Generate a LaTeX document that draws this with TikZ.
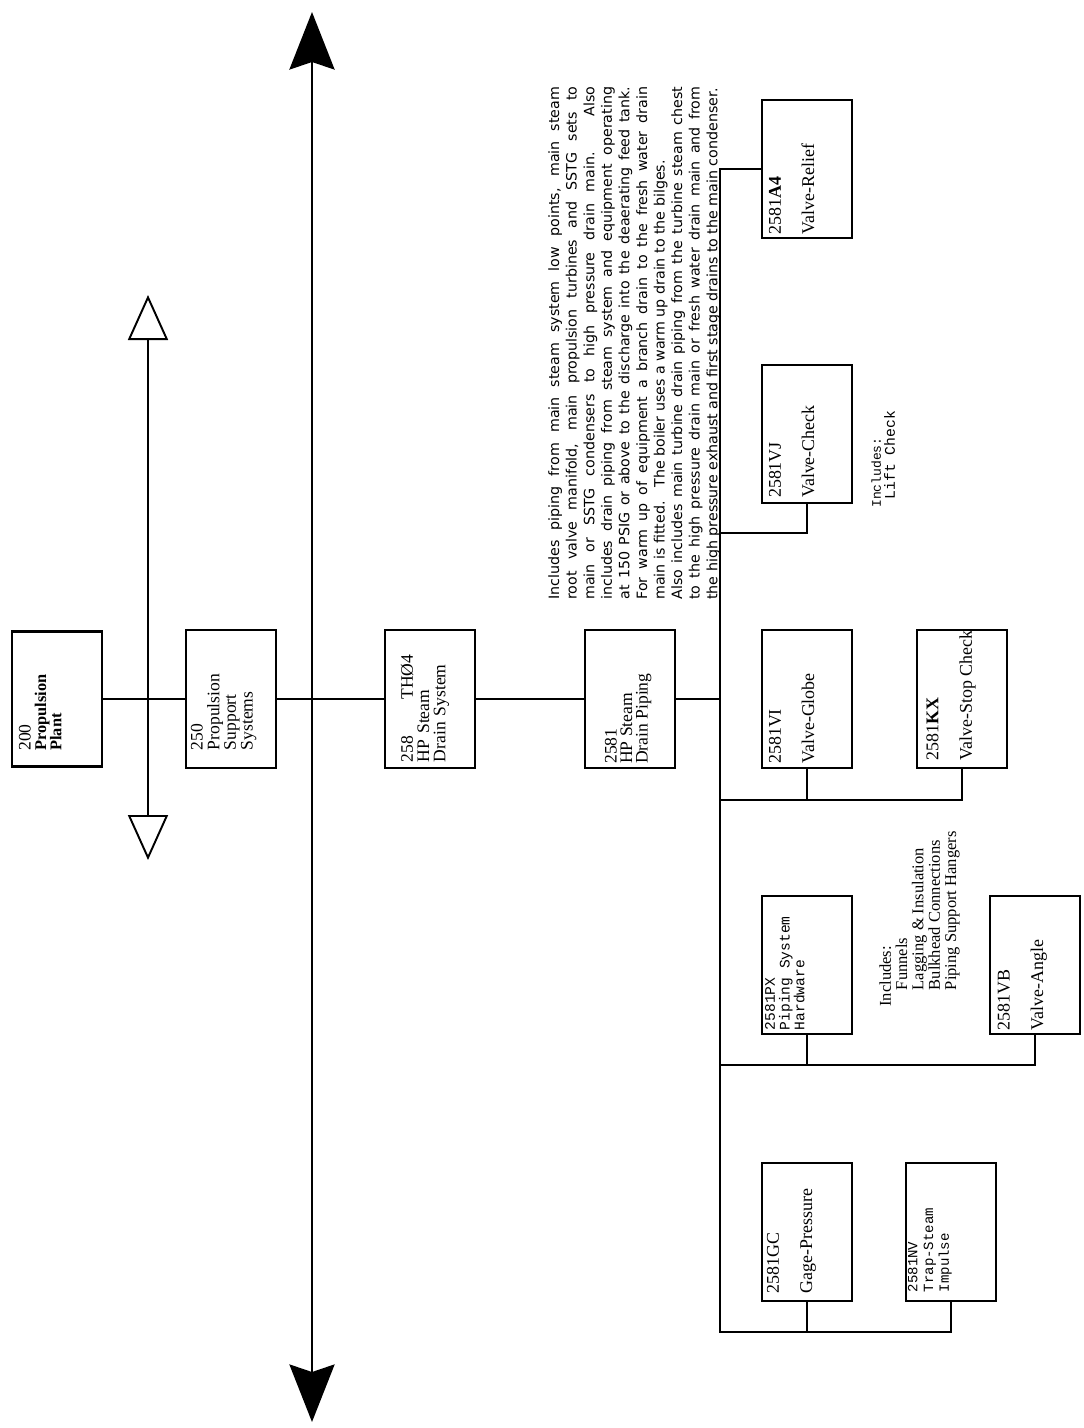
\documentclass[tikz,border=0pt]{standalone}
\usepackage{fontspec}
\setmainfont{Liberation Serif}
\setsansfont{DejaVu Sans}
\setmonofont{Liberation Mono}
\usetikzlibrary{arrows.meta}

\begin{document}
\begin{tikzpicture}[
  x=0.02cm, y=-0.02cm,
  box/.style={draw, line width=1.6pt, minimum width=1.8cm,
              minimum height=2.76cm, inner sep=0pt},
  conn/.style={line width=1.2pt},
  vtext/.style={rotate=90, anchor=north west, align=left, inner sep=0pt},
  bigtext/.style={vtext, font=\fontsize{10}{9.3}\selectfont},
  valvetext/.style={vtext, font=\fontsize{10.2}{19}\selectfont},
  monotext/.style={vtext, font=\ttfamily\fontsize{8.3}{8.4}\selectfont},
  axis/.style={line width=1.7pt, <->,
               >={Stealth[length=1.15cm, width=0.9cm, inset=0.15cm]}},
  rangeaxis/.style={line width=1.1pt, <->,
               >={Triangle[open, length=0.9cm, width=0.8cm]}},
]
\useasboundingbox (0,0) rectangle (1084,1428);

% ── axes ──────────────────────────────────────────────────────────────────────
\coordinate (axtop) at (312,12);
\coordinate (axbot) at (312,1422);
\draw[axis] (axtop) -- (axbot);

\coordinate (rtop) at (148,295);
\coordinate (rbot) at (148,860);
\draw[rangeaxis] (rtop) -- (rbot);

% ── main row ──────────────────────────────────────────────────────────────────
\node[box, minimum height=2.7cm] (plant) at (57,699) {};
\node[box] (support) at (231,699) {};
\node[box] (drainsys) at (430,699) {};
\node[box] (drainpipe) at (630,699) {};

\node[vtext, font=\fontsize{10}{8.8}\selectfont] (plantT)
  at ([xshift=4.5pt, yshift=9.6pt]plant.south west)
  {200\\{\bfseries\fontsize{9.3}{8.8}\selectfont Propulsion}\\
   {\bfseries\fontsize{9.3}{8.8}\selectfont Plant}};
\node[vtext, font=\fontsize{10}{9.5}\selectfont] (supportT)
  at ([xshift=3.4pt, yshift=10.8pt]support.south west)
  {250\\Propulsion\\Support\\Systems};
\node[bigtext, text width=2.15cm] (drainsysT)
  at ([xshift=9.6pt, yshift=4pt]drainsys.south west)
  {258\hfill TH\O{}4\\HP Steam\\Drain System};
\node[bigtext, font=\fontsize{10}{8.8}\selectfont] (drainpipeT)
  at ([xshift=12pt, yshift=3pt]drainpipe.south west)
  {2581\\HP Steam\\Drain Piping};

\draw[conn] (plant) -- (support) -- (drainsys) -- (drainpipe);

% ── description ───────────────────────────────────────────────────────────────
\node[vtext, align=justify, text width=10.26cm,
      font=\sffamily\fontsize{8.1}{10}\selectfont] (notes) at (548,600) {
  \noindent Includes piping from main steam system low points, main steam\linebreak
  root valve manifold, main propulsion turbines and SSTG sets to\linebreak
  main or SSTG condensers to high pressure drain main.\ \ \ Also\linebreak
  includes drain piping from steam system and equipment operating\linebreak
  at 150 PSIG or above to the discharge into the deaerating feed tank.\linebreak
  For warm up of equipment a branch drain to the fresh water drain\linebreak
  main is fitted.\ \ \ The boiler uses a warm up drain to the bilges.\par
  \noindent Also includes main turbine drain piping from the turbine steam chest\linebreak
  to the high pressure drain main or fresh water drain main and from\linebreak
  the high pressure exhaust and first stage drains to the main condenser.
};

% ── component boxes ───────────────────────────────────────────────────────────
\node[box] (relief) at (807,169) {};
\node[box] (check) at (807,434) {};
\node[box] (globe) at (807,699) {};
\node[box] (stopcheck) at (962,699) {};
\node[box] (hardware) at (807,965) {};
\node[box] (angle) at (1035,965) {};
\node[box] (gage) at (807,1232) {};
\node[box] (trap) at (951,1232) {};

\node[valvetext] (reliefT) at ([xshift=4.5pt, yshift=2.8pt]relief.south west)
  {2581\textbf{A4}\\Valve-Relief};
\node[valvetext] (checkT) at ([xshift=4.5pt, yshift=3.5pt]check.south west)
  {2581VJ\\Valve-Check};
\node[valvetext] (globeT) at ([xshift=4.5pt, yshift=3pt]globe.south west)
  {2581VI\\Valve-Globe};
\node[valvetext] (stopcheckT) at ([xshift=6pt, yshift=5pt]stopcheck.south west)
  {2581\textbf{KX}\\Valve-Stop Check};
\node[monotext] (hardwareT) at ([xshift=2.3pt, yshift=2.8pt]hardware.south west)
  {2581PX\\Piping System\\Hardware};
\node[valvetext] (angleT) at ([xshift=5pt, yshift=2.8pt]angle.south west)
  {2581VB\\Valve-Angle};
\node[valvetext] (gageT) at ([xshift=3.4pt, yshift=5pt]gage.south west)
  {2581GC\\Gage-Pressure};
\node[monotext, font=\ttfamily\fontsize{8}{9}\selectfont] (trapT)
  at ([xshift=1.7pt, yshift=5.6pt]trap.south west)
  {2581NV\\Trap-Steam\\Impulse};

% ── includes notes ────────────────────────────────────────────────────────────
\node[vtext, font=\ttfamily\fontsize{7.4}{8}\selectfont] (checknote) at (871,508)
  {Includes:\\\hspace*{1.2ex}{\fontsize{8.4}{8}\selectfont Lift Check}};
\node[vtext, font=\fontsize{9.4}{9.3}\selectfont] (hwnote) at (879,1007)
  {Includes:\\\hspace*{1em}Funnels\\\hspace*{1em}Lagging \& Insulation\\
   \hspace*{1em}Bulkhead Connections\\\hspace*{1em}Piping Support Hangers};

% ── bus and branches ──────────────────────────────────────────────────────────
\coordinate (bus) at (720,699);
\coordinate (checkrow) at (720,533);
\coordinate (globerow) at (720,800);
\coordinate (hwrow) at (720,1065);
\coordinate (busend) at (720,1332);

\draw[conn] (drainpipe.east) -- (bus);
\draw[conn] (relief.west) -| (busend) -| (trap.south);
\draw[conn] (check.south) |- (checkrow);
\draw[conn] (globe.south) |- (globerow);
\draw[conn] (globerow) -| (stopcheck.south);
\draw[conn] (hardware.south) |- (hwrow);
\draw[conn] (hwrow) -| (angle.south);
\draw[conn] (gage.south) -- (gage.south |- busend);

\end{tikzpicture}
\end{document}
